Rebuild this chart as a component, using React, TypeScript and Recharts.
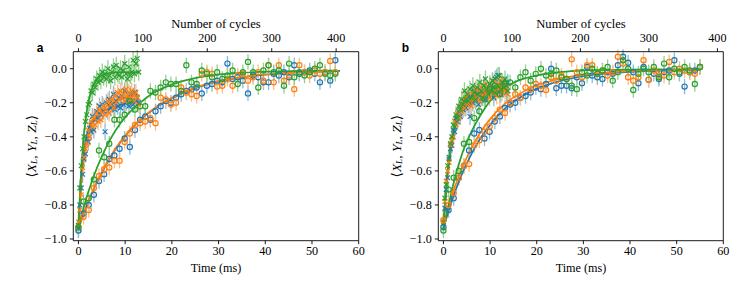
import React from 'react';
import { ComposedChart, Scatter, Line, XAxis, YAxis, ErrorBar, ReferenceLine } from 'recharts';

const SERIF = '"Liberation Serif", "Times New Roman", "DejaVu Serif", serif';
const SANS = '"Liberation Sans", Arial, "DejaVu Sans", sans-serif';

const BLUE = '#1f77b4';
const ORANGE = '#ff7f0e';
const GREEN = '#2ca02c';
const BLUE_L = '#8fbbd9';
const ORANGE_L = '#ffbf86';
const GREEN_L = '#95cf95';

const timeTicks = [0, 10, 20, 30, 40, 50, 60];
const cycleTicks = [0, 100, 200, 300, 400];
const yTicks = [-1, -0.8, -0.6, -0.4, -0.2, 0];

// sampling times (ms)
const slowTimes = [0, 1.1, 2.2, 3.3, 4.4, 5.5, 6.6, 7.7, 8.8, 9.9, 11, 12.1, 13.2, 14.3, 15.4, 16.5, 17.6, 18.7, 19.8, 20.9, 22, 23.1, 24.2, 25.3, 26.4, 27.5, 28.6, 29.7, 30.8, 31.9, 33, 34.1, 35.2, 36.3, 37.4, 38.5, 39.6, 40.7, 41.8, 42.9, 44, 45.1, 46.2, 47.3, 48.4, 49.5, 50.6, 51.7, 52.8, 53.9, 55];
const fastTimesA = [0, 0.3, 0.6, 0.9, 1.2, 1.5, 1.8, 2.1, 2.4, 2.7, 3, 3.3, 3.6, 3.9, 4.2, 4.5, 4.8, 5.1, 5.4, 5.7, 6, 6.3, 6.6, 6.9, 7.2, 7.5, 7.8, 8.1, 8.4, 8.7, 9, 9.3, 9.6, 9.9, 10.2, 10.5, 10.8, 11.1, 11.4, 11.7, 12, 12.3, 12.6, 12.9];
const fastTimesB = [0, 0.3, 0.6, 0.9, 1.2, 1.5, 1.8, 2.1, 2.4, 2.7, 3, 3.3, 3.6, 3.9, 4.2, 4.5, 4.8, 5.1, 5.4, 5.7, 6, 6.3, 6.6, 6.9, 7.2, 7.5, 7.8, 8.1, 8.4, 8.7, 9, 9.3, 9.6, 9.9, 10.2, 10.5, 10.8, 11.1, 11.4, 11.7, 12, 12.3, 12.6, 12.9, 13.2, 13.5, 13.8];

// cycles per ms on the top axis
const cyclesPerMsA = 7.25;
const cyclesPerMsB = 6.81;

// Panel a — slow (circles)
const blueSlowA = [-0.95, -0.85, -0.80, -0.74, -0.66, -0.62, -0.53, -0.51, -0.47, -0.41, -0.46, -0.36, -0.30, -0.28, -0.30, -0.25, -0.22, -0.19, -0.20, -0.17, -0.15, -0.13, -0.12, -0.11, -0.145, -0.10, -0.09, -0.07, -0.08, 0.03, -0.06, -0.05, -0.07, -0.145, -0.04, -0.05, -0.08, -0.08, -0.03, -0.04, -0.02, -0.05, 0.02, -0.03, -0.02, -0.01, -0.03, -0.08, -0.02, -0.07, 0.05];
const orangeSlowA = [-0.93, -0.87, -0.83, -0.70, -0.63, -0.59, -0.58, -0.54, -0.54, -0.43, -0.38, -0.33, -0.32, -0.31, -0.29, -0.32, -0.17, -0.18, -0.21, -0.20, -0.11, -0.14, -0.15, -0.16, -0.03, -0.02, -0.03, -0.105, -0.10, -0.06, -0.10, -0.04, -0.03, -0.07, -0.05, -0.02, -0.07, 0.02, -0.08, 0.02, -0.07, -0.04, -0.12, 0.02, -0.02, -0.04, -0.01, -0.03, -0.02, 0.045, -0.02];
const greenSlowA = [-0.93, -0.78, -0.76, -0.65, -0.48, -0.52, -0.44, -0.30, -0.30, -0.27, -0.19, -0.24, -0.22, -0.22, -0.13, -0.14, -0.11, -0.08, -0.09, -0.09, -0.13, 0.02, -0.08, -0.09, -0.01, -0.03, -0.05, -0.02, -0.06, -0.04, -0.01, -0.09, -0.02, 0.04, -0.02, -0.11, -0.01, 0.02, -0.02, -0.01, -0.10, 0.03, -0.05, -0.02, -0.04, -0.02, 0.00, 0.02, -0.03, -0.04, -0.03];

// Panel a — fast (crosses)
const blueFastA = [-0.94, -0.80, -0.70, -0.62, -0.53, -0.50, -0.41, -0.43, -0.35, -0.37, -0.28, -0.36, -0.30, -0.25, -0.29, -0.22, -0.27, -0.21, -0.25, -0.37, -0.20, -0.25, -0.18, -0.23, -0.21, -0.15, -0.24, -0.19, -0.22, -0.17, -0.23, -0.16, -0.21, -0.13, -0.20, -0.18, -0.22, -0.15, -0.19, -0.21, -0.14, -0.19, -0.17, -0.20];
const orangeFastA = [-0.90, -0.83, -0.74, -0.58, -0.52, -0.47, -0.44, -0.36, -0.40, -0.31, -0.34, -0.29, -0.33, -0.26, -0.31, -0.24, -0.30, -0.26, -0.22, -0.27, -0.24, -0.19, -0.26, -0.21, -0.18, -0.23, -0.16, -0.20, -0.14, -0.18, -0.13, -0.17, -0.15, -0.19, -0.12, -0.16, -0.14, -0.18, -0.13, -0.16, -0.19, -0.14, -0.17, -0.21];
const greenFastA = [-0.92, -0.70, -0.57, -0.47, -0.40, -0.31, -0.27, -0.21, -0.20, -0.13, -0.14, -0.09, -0.11, -0.06, -0.08, -0.04, -0.07, -0.02, -0.05, -0.03, -0.06, 0.00, -0.04, -0.07, -0.02, 0.01, -0.05, 0.02, -0.03, -0.04, 0.00, -0.05, -0.01, 0.03, -0.03, -0.06, 0.01, -0.04, -0.02, 0.05, -0.03, 0.03, 0.06, -0.02];

// Panel b — slow (circles)
const blueSlowB = [-0.93, -0.83, -0.76, -0.64, -0.57, -0.48, -0.38, -0.36, -0.41, -0.37, -0.31, -0.28, -0.23, -0.21, -0.20, -0.17, -0.16, -0.14, -0.11, -0.12, -0.09, 0.00, -0.115, -0.10, -0.10, -0.115, -0.05, -0.085, 0.01, -0.04, -0.05, -0.06, -0.02, -0.03, 0.02, 0.07, 0.035, -0.02, -0.085, 0.01, -0.065, -0.03, -0.06, -0.02, -0.01, 0.05, -0.03, -0.105, -0.02, -0.01, 0.01];
const orangeSlowB = [-0.89, -0.80, -0.73, -0.64, -0.57, -0.56, -0.45, -0.42, -0.37, -0.34, -0.29, -0.24, -0.26, -0.20, -0.15, -0.17, -0.11, -0.12, -0.09, -0.10, -0.125, -0.05, -0.07, -0.04, -0.06, 0.055, -0.02, -0.05, 0.02, 0.02, -0.03, -0.01, -0.04, -0.02, 0.07, 0.03, -0.05, -0.07, -0.05, 0.05, -0.065, -0.01, -0.04, -0.04, 0.04, -0.02, 0.00, -0.01, -0.02, -0.03, 0.01];
const greenSlowB = [-0.95, -0.71, -0.64, -0.60, -0.44, -0.43, -0.29, -0.25, -0.18, -0.12, -0.10, -0.15, -0.09, -0.08, -0.11, -0.05, -0.02, -0.07, -0.03, 0.00, -0.04, -0.03, -0.01, -0.05, -0.06, -0.10, -0.12, -0.02, -0.04, 0.00, -0.03, -0.01, 0.01, -0.07, -0.02, 0.05, 0.00, -0.125, -0.03, 0.00, -0.02, 0.01, -0.05, 0.03, -0.05, 0.00, -0.02, 0.01, -0.01, -0.09, 0.01];

// Panel b — fast (crosses)
const blueFastB = [-0.91, -0.82, -0.71, -0.64, -0.52, -0.47, -0.45, -0.36, -0.37, -0.29, -0.31, -0.25, -0.28, -0.21, -0.24, -0.19, -0.23, -0.17, -0.21, -0.28, -0.16, -0.20, -0.13, -0.19, -0.15, -0.21, -0.12, -0.17, -0.14, -0.10, -0.18, -0.13, -0.16, -0.09, -0.14, -0.11, -0.17, -0.06, -0.12, -0.04, -0.10, -0.15, -0.08, -0.12, -0.09, -0.14, -0.08];
const orangeFastB = [-0.89, -0.78, -0.66, -0.60, -0.55, -0.45, -0.42, -0.40, -0.31, -0.33, -0.26, -0.29, -0.22, -0.25, -0.19, -0.23, -0.17, -0.21, -0.15, -0.19, -0.22, -0.14, -0.18, -0.12, -0.17, -0.13, -0.19, -0.11, -0.16, -0.13, -0.09, -0.15, -0.12, -0.17, -0.10, -0.14, -0.08, -0.13, -0.16, -0.09, -0.12, -0.07, -0.14, -0.10, -0.13, -0.11, -0.15];
const greenFastB = [-0.90, -0.76, -0.68, -0.57, -0.53, -0.44, -0.40, -0.33, -0.34, -0.27, -0.29, -0.22, -0.24, -0.18, -0.21, -0.13, -0.18, -0.15, -0.19, -0.12, -0.17, -0.10, -0.14, -0.18, -0.11, -0.15, -0.08, -0.13, -0.17, -0.10, -0.06, -0.12, -0.15, -0.09, -0.13, -0.07, -0.11, -0.14, -0.05, -0.10, -0.04, -0.12, -0.08, -0.11, -0.06, -0.10, -0.13];

// error bar half-lengths
const errSlow = 0.045;
const errFast = 0.05;

// fit curves: [time, value]
const fitBlueSlowA = [[0, -0.94], [2, -0.79], [4, -0.665], [6, -0.56], [8, -0.47], [10, -0.395], [13, -0.305], [16, -0.24], [20, -0.174], [25, -0.114], [30, -0.075], [35, -0.051], [40, -0.035], [47, -0.022], [56, -0.013]];
const fitOrangeSlowA = [[0, -0.935], [2, -0.787], [4, -0.662], [6, -0.555], [8, -0.466], [10, -0.392], [13, -0.302], [16, -0.237], [20, -0.171], [25, -0.111], [30, -0.073], [35, -0.05], [40, -0.034], [47, -0.021], [55, -0.013]];
const fitGreenSlowA = [[0, -0.93], [2, -0.733], [4, -0.579], [6, -0.457], [8, -0.36], [10, -0.285], [13, -0.205], [16, -0.143], [20, -0.093], [25, -0.055], [30, -0.035], [35, -0.024], [40, -0.017], [47, -0.013], [55, -0.011]];
const fitBlueFastA = [[0, -0.93], [0.3, -0.78], [0.6, -0.66], [0.9, -0.56], [1.2, -0.49], [1.5, -0.43], [2, -0.37], [2.5, -0.33], [3, -0.305], [4, -0.275], [5, -0.255], [6, -0.24], [8, -0.22], [10, -0.205], [12.9, -0.19]];
const fitOrangeFastA = [[0, -0.92], [0.3, -0.79], [0.6, -0.68], [0.9, -0.59], [1.2, -0.52], [1.5, -0.465], [2, -0.40], [2.5, -0.355], [3, -0.32], [4, -0.275], [5, -0.245], [6, -0.22], [8, -0.19], [10, -0.17], [12.9, -0.155]];
const fitGreenFastA = [[0, -0.93], [0.3, -0.743], [0.6, -0.594], [0.9, -0.475], [1.2, -0.38], [1.5, -0.306], [1.8, -0.246], [2.1, -0.20], [2.4, -0.163], [3, -0.11], [3.6, -0.077], [4.2, -0.056], [5, -0.039], [6, -0.029], [8, -0.022], [12.9, -0.02]];

const fitBlueSlowB = [[0, -0.935], [2, -0.76], [4, -0.616], [6, -0.501], [8, -0.405], [10, -0.33], [13, -0.24], [16, -0.176], [20, -0.117], [25, -0.072], [30, -0.044], [35, -0.028], [40, -0.019], [47, -0.012], [55, -0.008]];
const fitOrangeSlowB = [[0, -0.915], [2, -0.73], [4, -0.584], [6, -0.466], [8, -0.371], [10, -0.296], [13, -0.21], [16, -0.152], [20, -0.099], [25, -0.059], [30, -0.035], [35, -0.022], [40, -0.015], [47, -0.009], [55, -0.007]];
const fitGreenSlowB = [[0, -0.95], [2, -0.69], [4, -0.50], [6, -0.37], [8, -0.27], [10, -0.19], [13, -0.115], [16, -0.07], [20, -0.04], [25, -0.02], [30, -0.01], [40, -0.005], [55, -0.003]];
const fitBlueFastB = [[0, -0.92], [0.3, -0.81], [0.6, -0.71], [0.9, -0.62], [1.2, -0.55], [1.5, -0.49], [2, -0.41], [2.5, -0.345], [3, -0.30], [3.5, -0.265], [4, -0.24], [5, -0.205], [6, -0.185], [8, -0.16], [10, -0.145], [12, -0.135], [13.8, -0.125]];
const fitOrangeFastB = [[0, -0.92], [0.3, -0.80], [0.6, -0.70], [0.9, -0.61], [1.2, -0.54], [1.5, -0.48], [2, -0.40], [2.5, -0.335], [3, -0.29], [3.5, -0.255], [4, -0.23], [5, -0.195], [6, -0.175], [8, -0.155], [10, -0.14], [12, -0.13], [13.8, -0.12]];
const fitGreenFastB = [[0, -0.92], [0.3, -0.79], [0.6, -0.69], [0.9, -0.60], [1.2, -0.53], [1.5, -0.47], [2, -0.39], [2.5, -0.325], [3, -0.28], [3.5, -0.245], [4, -0.22], [5, -0.185], [6, -0.165], [8, -0.14], [10, -0.125], [12, -0.115], [13.8, -0.105]];

type Pt = { t: number; v: number; e?: number };
const toPts = (ts: number[], vs: number[], e: number): Pt[] => ts.map((t, i) => ({ t, v: vs[i], e }));
const toFit = (pairs: number[][]): Pt[] => pairs.map(([t, v]) => ({ t, v }));

const bad = (p: any) => p == null || p.cx == null || p.cy == null || isNaN(p.cx) || isNaN(p.cy);
const circleShape = (color: string) => (p: any) => {
  if (bad(p)) return <g />;
  return <circle cx={p.cx} cy={p.cy} r={2.6} fill="none" stroke={color} strokeWidth={1.2} />;
};
const crossShape = (color: string) => (p: any) => {
  if (bad(p)) return <g />;
  const s = 2.4;
  const { cx, cy } = p;
  return (
    <path
      d={`M${cx - s},${cy - s}L${cx + s},${cy + s}M${cx - s},${cy + s}L${cx + s},${cy - s}`}
      stroke={color}
      strokeWidth={1.2}
      fill="none"
    />
  );
};
const hiddenShape = () => <g />;

type SeriesCfg = { data: Pt[]; color: string; light: string; marker: 'o' | 'x' };
type FitCfg = { data: Pt[]; color: string };

const PLOT_W = 285.4;
const PLOT_TOP = 51.7;
const PLOT_BOTTOM = 240.7;
const TICK_FS = 12.2;

const fmtY = (v: number) => {
  const s = Math.abs(v) < 1e-9 ? '0.0' : v.toFixed(1);
  return s.replace('-', '\u2212');
};

const BottomTick = (p: any) => (
  <text x={p.x} y={p.y} dy="0.71em" textAnchor="middle" fontFamily={SERIF} fontSize={TICK_FS} fill="#000">
    {String(p.payload.value)}
  </text>
);
const TopTick = (p: any) => (
  <text x={p.x} y={p.y} textAnchor="middle" fontFamily={SERIF} fontSize={TICK_FS} fill="#000">
    {String(p.payload.value)}
  </text>
);
const LeftTick = (p: any) => (
  <text x={p.x} y={p.y} dy="0.34em" textAnchor="end" fontFamily={SERIF} fontSize={TICK_FS} fill="#000">
    {fmtY(p.payload.value)}
  </text>
);

function Panel(props: {
  letter: string;
  k: number;
  yw: number;
  mr: number;
  series: SeriesCfg[];
  fits: FitCfg[];
}) {
  const { letter, k, yw, mr, series, fits } = props;
  const cx = yw + PLOT_W / 2;
  const yc = (PLOT_TOP + PLOT_BOTTOM) / 2;
  const ylx = yw - 42;
  const lineStyle = { stroke: '#000', strokeWidth: 0.9 };
  const sub = { fontStyle: 'italic' as const, fontSize: 9 };
  const topAnchor = cycleTicks.map((c) => ({ t: c, v: -0.5 }));
  return (
    <ComposedChart width={374} height={295} margin={{ top: 21.7, right: mr, bottom: 24.3, left: 0 }}>
      <XAxis
        xAxisId="top"
        dataKey="t"
        orientation="top"
        type="number"
        domain={[-1.1 * k, 60 * k]}
        allowDataOverflow
        ticks={cycleTicks}
        interval={0}
        height={30}
        tickSize={3.5}
        tickMargin={6.5}
        tick={TopTick}
        tickLine={lineStyle}
        axisLine={lineStyle}
        label={() => (
          <text x={cx} y={28} textAnchor="middle" fontFamily={SERIF} fontSize={12.6} fill="#000">
            Number of cycles
          </text>
        )}
      />
      <XAxis
        xAxisId="b"
        dataKey="t"
        type="number"
        domain={[-1.1, 60]}
        allowDataOverflow
        ticks={timeTicks}
        interval={0}
        height={30}
        tickSize={3.5}
        tickMargin={2.5}
        tick={BottomTick}
        tickLine={lineStyle}
        axisLine={lineStyle}
        label={() => (
          <text x={cx} y={271.5} textAnchor="middle" fontFamily={SERIF} fontSize={12.2} fill="#000">
            Time (ms)
          </text>
        )}
      />
      <YAxis
        dataKey="v"
        type="number"
        domain={[-1.01, 0.1]}
        allowDataOverflow
        ticks={yTicks}
        interval={0}
        width={yw}
        tickSize={3.5}
        tickMargin={3}
        tick={LeftTick}
        tickLine={lineStyle}
        axisLine={lineStyle}
        label={() => (
          <g>
            <text x={yw - 36.6} y={51.7} fontFamily={SANS} fontWeight="bold" fontSize={12} fill="#000">
              {letter}
            </text>
            <text
              x={ylx}
              y={yc}
              transform={`rotate(-90 ${ylx} ${yc})`}
              textAnchor="middle"
              dominantBaseline="central"
              fontFamily={SERIF}
              fontSize={13.5}
              fill="#000"
            >
              <tspan>{'\u27E8'}</tspan>
              <tspan fontStyle="italic">X</tspan>
              <tspan {...sub} dy={3}>L</tspan>
              <tspan dy={-3}>{', '}</tspan>
              <tspan fontStyle="italic">Y</tspan>
              <tspan {...sub} dy={3}>L</tspan>
              <tspan dy={-3}>{', '}</tspan>
              <tspan fontStyle="italic">Z</tspan>
              <tspan {...sub} dy={3}>L</tspan>
              <tspan dy={-3}>{'\u27E9'}</tspan>
            </text>
          </g>
        )}
      />
      <ReferenceLine xAxisId="b" x={60} stroke="#000" strokeWidth={0.9} />
      <Scatter data={topAnchor} xAxisId="top" isAnimationActive={false} shape={hiddenShape} />
      {series.map((s, i) => (
        <Scatter
          key={'s' + i}
          data={s.data}
          xAxisId="b"
          isAnimationActive={false}
          shape={s.marker === 'o' ? circleShape(s.color) : crossShape(s.color)}
        >
          <ErrorBar dataKey="e" direction="y" width={0} stroke={s.light} strokeWidth={1.3} isAnimationActive={false} />
        </Scatter>
      ))}
      {fits.map((f, i) => (
        <Line
          key={'f' + i}
          data={f.data}
          dataKey="v"
          xAxisId="b"
          type="monotone"
          dot={false}
          activeDot={false}
          stroke={f.color}
          strokeWidth={1.7}
          isAnimationActive={false}
        />
      ))}
    </ComposedChart>
  );
}

const seriesA: SeriesCfg[] = [
  { data: toPts(fastTimesA, blueFastA, errFast), color: BLUE, light: BLUE_L, marker: 'x' },
  { data: toPts(fastTimesA, orangeFastA, errFast), color: ORANGE, light: ORANGE_L, marker: 'x' },
  { data: toPts(fastTimesA, greenFastA, errFast), color: GREEN, light: GREEN_L, marker: 'x' },
  { data: toPts(slowTimes, blueSlowA, errSlow), color: BLUE, light: BLUE_L, marker: 'o' },
  { data: toPts(slowTimes, orangeSlowA, errSlow), color: ORANGE, light: ORANGE_L, marker: 'o' },
  { data: toPts(slowTimes, greenSlowA, errSlow), color: GREEN, light: GREEN_L, marker: 'o' },
];
const fitsA: FitCfg[] = [
  { data: toFit(fitBlueSlowA), color: BLUE },
  { data: toFit(fitOrangeSlowA), color: ORANGE },
  { data: toFit(fitGreenSlowA), color: GREEN },
  { data: toFit(fitBlueFastA), color: BLUE },
  { data: toFit(fitOrangeFastA), color: ORANGE },
  { data: toFit(fitGreenFastA), color: GREEN },
];
const seriesB: SeriesCfg[] = [
  { data: toPts(fastTimesB, blueFastB, errFast), color: BLUE, light: BLUE_L, marker: 'x' },
  { data: toPts(fastTimesB, orangeFastB, errFast), color: ORANGE, light: ORANGE_L, marker: 'x' },
  { data: toPts(fastTimesB, greenFastB, errFast), color: GREEN, light: GREEN_L, marker: 'x' },
  { data: toPts(slowTimes, blueSlowB, errSlow), color: BLUE, light: BLUE_L, marker: 'o' },
  { data: toPts(slowTimes, orangeSlowB, errSlow), color: ORANGE, light: ORANGE_L, marker: 'o' },
  { data: toPts(slowTimes, greenSlowB, errSlow), color: GREEN, light: GREEN_L, marker: 'o' },
];
const fitsB: FitCfg[] = [
  { data: toFit(fitBlueSlowB), color: BLUE },
  { data: toFit(fitOrangeSlowB), color: ORANGE },
  { data: toFit(fitGreenSlowB), color: GREEN },
  { data: toFit(fitBlueFastB), color: BLUE },
  { data: toFit(fitOrangeFastB), color: ORANGE },
  { data: toFit(fitGreenFastB), color: GREEN },
];

export default function App() {
  return (
    <div style={{ position: 'absolute', left: 0, top: 0, width: 748, height: 295, display: 'flex', background: '#fff' }}>
      <Panel letter="a" k={cyclesPerMsA} yw={73.3} mr={15.3} series={seriesA} fits={fitsA} />
      <Panel letter="b" k={cyclesPerMsB} yw={64.3} mr={24.7} series={seriesB} fits={fitsB} />
    </div>
  );
}
